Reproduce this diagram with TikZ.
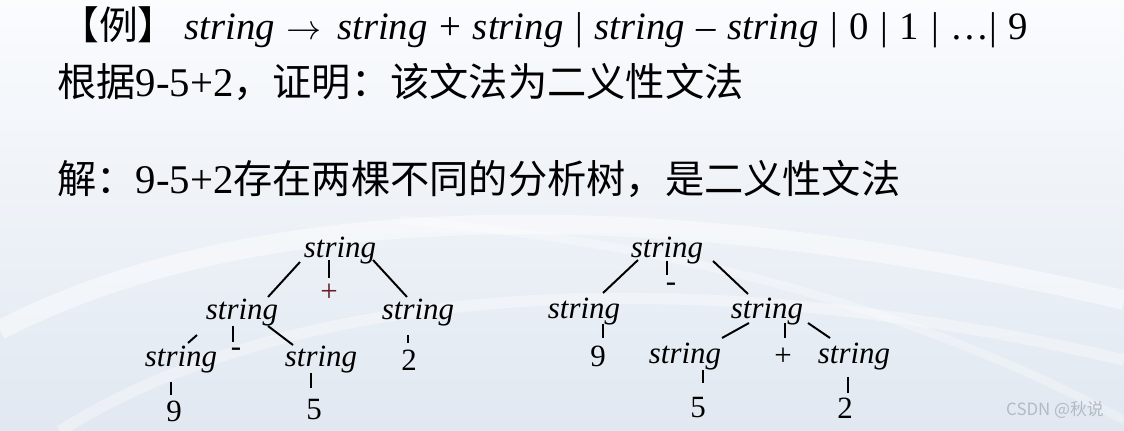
\documentclass[tikz,border=0pt]{standalone}
\usepackage{fontspec}
\setmainfont{Liberation Serif}
\newfontfamily\cjk{Noto Sans CJK SC}
\usetikzlibrary{calc}
\definecolor{bgtop}{HTML}{FAFCFE}
\definecolor{bgbottom}{HTML}{E1E8F1}
\definecolor{plusred}{HTML}{6A1A2A}
\definecolor{markgray}{HTML}{B2BAC4}
\tikzstyle{headstyle}=[anchor=base west,inner sep=0,font=\fontsize{27.9}{32}\selectfont]
\tikzstyle{symstyle}=[inner sep=0,font=\fontsize{22}{26}\selectfont\itshape]
\tikzstyle{leafstyle}=[inner sep=0,font=\fontsize{22}{26}\selectfont]
\tikzstyle{edgestyle}=[line width=1.4pt]
\newcommand{\numtext}[1]{{\fontsize{29}{32}\selectfont #1}}
\newcommand{\widespaces}{\spaceskip=0.3em\relax}

\begin{document}
\begin{tikzpicture}[x=0.025cm,y=-0.025cm]

      % background of the slide (coordinates are pixels, y goes down)
      \useasboundingbox (0,0) rectangle (1124,431);
      \shade[top color=bgtop,bottom color=bgbottom] (0,0) rectangle (1124,431);
      \draw[white,opacity=0.45,line width=14] (0,330) .. controls (250,200) and (650,190) .. (1124,300);
      \draw[white,opacity=0.35,line width=8] (60,431) .. controls (300,280) and (700,260) .. (1124,360);
      \draw[white,opacity=0.3,line width=6] (400,220) .. controls (650,240) and (900,300) .. (1124,420);

      % text lines at the top
      \node[headstyle,font=\fontsize{27.6}{32}\selectfont] at (60,40) (rule)
         {\widespaces{\cjk 【例】}\hspace{0.2em}\textit{string} $\rightarrow$\hspace{0.1em} \textit{string} + \textit{string} | \textit{string} – \textit{string} | 0 | 1 | …| 9};
      \node[headstyle] at (57,97) (task) {{\cjk 根据}\numtext{9-5+2}{\cjk ，证明：该文法为二义性文法}};
      \node[headstyle] at (57,194) (answer) {{\cjk 解：}\numtext{9-5+2}{\cjk 存在两棵不同的分析树，是二义性文法}};

      % first tree: (9-5)+2
      \node[symstyle] at (340,251) (r1) {string};
      \node[leafstyle,text=plusred] at (329,293) (p1) {+};
      \node[symstyle] at (242,313) (a1) {string};
      \node[symstyle] at (418,313) (b1) {string};
      \node[leafstyle] at (236,352) (m1) {-};
      \node[symstyle] at (181,360) (c1) {string};
      \node[symstyle] at (321,360) (d1) {string};
      \node[leafstyle] at (409,360) (e1) {2};
      \node[leafstyle] at (174,411) (n1) {9};
      \node[leafstyle] at (314,410) (f1) {5};

      % second tree: 9-(5+2)
      \node[symstyle] at (667,251) (r2) {string};
      \node[leafstyle] at (671,287) (m2) {-};
      \node[symstyle] at (584,312) (a2) {string};
      \node[symstyle] at (767,312) (b2) {string};
      \node[leafstyle] at (598,356) (n2) {9};
      \node[symstyle] at (685,357) (c2) {string};
      \node[leafstyle] at (783,357) (p2) {+};
      \node[symstyle] at (854,357) (d2) {string};
      \node[leafstyle] at (698,408) (f2) {5};
      \node[leafstyle] at (845,408) (e2) {2};

      % edges of the first tree
      \draw[edgestyle] ([shift={(-40,11)}]r1.center) -- ([shift={(26,-16)}]a1.center);
      \draw[edgestyle] ([shift={(-11,9)}]r1.center) -- ([shift={(0,-15)}]p1.center);
      \draw[edgestyle] ([shift={(33,9)}]r1.center) -- ([shift={(-11,-16)}]b1.center);
      \draw[edgestyle] ([shift={(-45,22)}]a1.center) -- ([shift={(7,-17)}]c1.center);
      \draw[edgestyle] ([shift={(-9,13)}]a1.center) -- ([shift={(-3,-10)}]m1.center);
      \draw[edgestyle] ([shift={(26,13)}]a1.center) -- ([shift={(-28,-15)}]d1.center);
      \draw[edgestyle] ([shift={(-10,22)}]b1.center) -- ([shift={(-1,-17)}]e1.center);
      \draw[edgestyle] ([shift={(-10,22)}]c1.center) -- ([shift={(-3,-16)}]n1.center);
      \draw[edgestyle] ([shift={(-10,13)}]d1.center) -- ([shift={(-3,-22)}]f1.center);

      % edges of the second tree
      \draw[edgestyle] ([shift={(-29,9)}]r2.center) -- ([shift={(19,-19)}]a2.center);
      \draw[edgestyle] ([shift={(0,10)}]r2.center) -- ([shift={(-4,-12)}]m2.center);
      \draw[edgestyle] ([shift={(46,10)}]r2.center) -- ([shift={(-19,-18)}]b2.center);
      \draw[edgestyle] ([shift={(19,12)}]a2.center) -- ([shift={(5,-18)}]n2.center);
      \draw[edgestyle] ([shift={(-18,11)}]b2.center) -- ([shift={(37,-19)}]c2.center);
      \draw[edgestyle] ([shift={(18,11)}]b2.center) -- ([shift={(2,-19)}]p2.center);
      \draw[edgestyle] ([shift={(41,11)}]b2.center) -- ([shift={(-24,-19)}]d2.center);
      \draw[edgestyle] ([shift={(18,13)}]c2.center) -- ([shift={(5,-25)}]f2.center);
      \draw[edgestyle] ([shift={(-6,20)}]d2.center) -- ([shift={(3,-15)}]e2.center);

      % watermark
      \node[inner sep=0,text=markgray,font=\cjk\fontsize{12}{14}\selectfont] at (1055,410) (mark) {CSDN @秋说};

\end{tikzpicture}
\end{document}
